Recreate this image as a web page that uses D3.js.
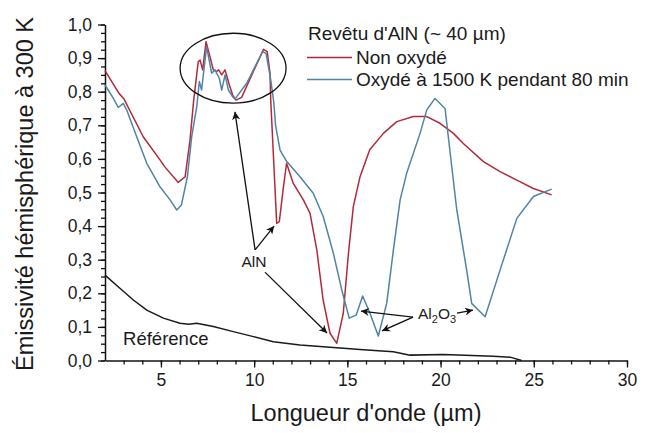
<!DOCTYPE html>
<html>
<head>
<meta charset="utf-8">
<script src="https://cdn.jsdelivr.net/npm/d3@7"></script>
<style>
  body { margin: 0; background: #fff; }
  text { font-family: "Liberation Sans", Arial, sans-serif; fill: #1a1a1a; }
</style>
</head>
<body>
<svg id="chart" width="649" height="433"></svg>
<script>
// wavelength (µm), emissivity
var nonOxyde = [
    [2.0, 0.863], [2.75, 0.795], [3.0, 0.78], [4.05, 0.666], [4.95, 0.597], [5.2, 0.577],
    [5.93, 0.53], [6.3, 0.547], [6.56, 0.656], [6.74, 0.765], [7.0, 0.889], [7.1, 0.894],
    [7.24, 0.865], [7.42, 0.949], [7.63, 0.904], [7.81, 0.865], [7.99, 0.86], [8.1, 0.865],
    [8.26, 0.85], [8.44, 0.865], [8.67, 0.82], [8.85, 0.79], [9.03, 0.775], [9.33, 0.783],
    [10.5, 0.926], [10.7, 0.919], [10.85, 0.855], [10.89, 0.775], [11.21, 0.408], [11.35, 0.413],
    [11.55, 0.507], [11.74, 0.587], [12.1, 0.527], [12.64, 0.478], [13.0, 0.438], [13.36, 0.329],
    [13.7, 0.18], [14.07, 0.081], [14.43, 0.051], [14.78, 0.14], [15.06, 0.32], [15.32, 0.458],
    [15.68, 0.547], [16.2, 0.627], [16.93, 0.676], [17.65, 0.711], [18.54, 0.726], [19.26, 0.726],
    [19.97, 0.706], [20.69, 0.676], [21.22, 0.646], [22.3, 0.592], [23.19, 0.562], [24.09, 0.537],
    [24.98, 0.512], [25.96, 0.493]
];
var oxyde = [
    [2.0, 0.82], [2.45, 0.78], [2.71, 0.753], [2.98, 0.765], [3.16, 0.746], [3.7, 0.666],
    [4.24, 0.587], [4.95, 0.517], [5.49, 0.478], [5.85, 0.448], [6.1, 0.463], [6.42, 0.547],
    [6.65, 0.666], [6.92, 0.755], [7.06, 0.83], [7.18, 0.805], [7.45, 0.934], [7.72, 0.855],
    [7.9, 0.865], [8.13, 0.84], [8.26, 0.805], [8.44, 0.85], [8.62, 0.805], [8.85, 0.785],
    [8.97, 0.778], [9.6, 0.825], [10.45, 0.919], [10.64, 0.914], [10.89, 0.835], [11.05, 0.77],
    [11.15, 0.7], [11.39, 0.626], [11.75, 0.592], [12.46, 0.547], [13.17, 0.498], [13.71, 0.428],
    [14.25, 0.319], [14.7, 0.21], [15.1, 0.126], [15.47, 0.135], [15.82, 0.192], [16.22, 0.14],
    [16.66, 0.073], [17.11, 0.17], [17.47, 0.329], [17.83, 0.478], [18.18, 0.557], [18.9, 0.676],
    [19.26, 0.746], [19.7, 0.78], [20.24, 0.75], [20.87, 0.448], [21.4, 0.269], [21.67, 0.17],
    [22.39, 0.13], [23.19, 0.269], [24.09, 0.423], [24.98, 0.488], [25.96, 0.51]
];
var reference = [
    [2.0, 0.254], [2.8, 0.215], [3.52, 0.18], [4.24, 0.15], [5.13, 0.126], [6.02, 0.111],
    [6.5, 0.108], [6.92, 0.111], [7.81, 0.101], [8.88, 0.086], [9.96, 0.071], [11.03, 0.056],
    [12.46, 0.046], [14.25, 0.039], [15.68, 0.033], [16.66, 0.029], [17.47, 0.026], [18.36, 0.016],
    [20.15, 0.018], [22.83, 0.013], [23.73, 0.01], [24.35, 0.0]
];

var xTicks = [5, 10, 15, 20, 25, 30];
var yTicks = [0, 0.1, 0.2, 0.3, 0.4, 0.5, 0.6, 0.7, 0.8, 0.9, 1.0];

var legendTitle = "Revêtu d'AlN (~ 40 µm)";
var seriesNames = ["Non oxydé", "Oxydé à 1500 K pendant 80 min"];
var seriesColors = ["#b22a3a", "#4f84a6"];

// annotation arrows [from, to] in data units
var alnArrows = [
    [[10.05, 0.329], [8.97, 0.74]],
    [[10.05, 0.329], [11.07, 0.40]],
    [[10.58, 0.263], [13.91, 0.082]]
];
var al2o3Arrows = [
    [[18.52, 0.129], [15.73, 0.147]],
    [[18.52, 0.129], [16.86, 0.088]],
    [[20.88, 0.141], [21.74, 0.150]]
];

var svg = d3.select("#chart");
var x = d3.scaleLinear().domain([2, 30]).range([105, 627]);
var y = d3.scaleLinear().domain([0, 1]).range([360.5, 24.5]);

var fr = d3.formatLocale({ decimal: ",", thousands: " ", grouping: [3], currency: ["", ""] });

// minor ticks first
svg.append("g")
    .attr("transform", "translate(0,360.5)")
    .call(d3.axisBottom(x).tickValues(d3.range(3, 31)).tickSize(4).tickFormat(""))
    .call(function (g) { g.select(".domain").remove(); });
svg.append("g")
    .attr("transform", "translate(105,0)")
    .call(d3.axisLeft(y).tickValues(d3.range(0, 1.001, 0.025)).tickSize(4).tickFormat(""))
    .call(function (g) { g.select(".domain").remove(); });

svg.append("g")
    .attr("transform", "translate(0,360.5)")
    .call(d3.axisBottom(x).tickValues(xTicks).tickSize(7).tickSizeOuter(0).tickPadding(6));
svg.append("g")
    .attr("transform", "translate(105,0)")
    .call(d3.axisLeft(y).tickValues(yTicks).tickSize(7).tickSizeOuter(0).tickPadding(6).tickFormat(fr.format(".1f")));

svg.selectAll(".tick line").attr("stroke", "#111").attr("stroke-width", 1.3);
svg.selectAll(".domain").attr("stroke", "#111").attr("stroke-width", 1.5);
svg.selectAll(".tick text")
    .attr("font-family", "Liberation Sans, Arial, sans-serif")
    .attr("font-size", 17.5)
    .attr("fill", "#1a1a1a");

// axis titles
svg.append("text")
    .attr("x", 366)
    .attr("y", 421)
    .attr("text-anchor", "middle")
    .attr("font-size", 23.5)
    .text("Longueur d'onde (µm)");
svg.append("text")
    .attr("transform", "translate(33,194) rotate(-90)")
    .attr("text-anchor", "middle")
    .attr("font-size", 23.5)
    .text("Émissivité hémisphérique à 300 K");

// curves
var line = d3.line()
    .x(function (d) { return x(d[0]); })
    .y(function (d) { return y(d[1]); });

svg.append("path")
    .datum(reference)
    .attr("fill", "none")
    .attr("stroke", "#1a1a1a")
    .attr("stroke-width", 1.5)
    .attr("d", line);

[nonOxyde, oxyde].forEach(function (serie, i) {
    svg.append("path")
        .datum(serie)
        .attr("fill", "none")
        .attr("stroke", seriesColors[i])
        .attr("stroke-width", 1.5)
        .attr("stroke-linejoin", "round")
        .attr("d", line);
});

// legend
svg.append("text")
    .attr("x", 308)
    .attr("y", 40)
    .attr("font-size", 19)
    .text(legendTitle);
seriesNames.forEach(function (name, i) {
    var ly = 57.5 + i * 22;
    svg.append("line")
        .attr("x1", 307).attr("x2", 352)
        .attr("y1", ly).attr("y2", ly)
        .attr("stroke", seriesColors[i])
        .attr("stroke-width", 1.5);
    svg.append("text")
        .attr("x", 356)
        .attr("y", ly + 6.5)
        .attr("font-size", 19)
        .text(name);
});

// annotations
svg.append("defs").append("marker")
    .attr("id", "head")
    .attr("viewBox", "0 0 10 10")
    .attr("refX", 10).attr("refY", 5)
    .attr("markerWidth", 10).attr("markerHeight", 8)
    .attr("markerUnits", "userSpaceOnUse")
    .attr("orient", "auto")
    .append("path")
    .attr("d", "M0,0 L10,5 L0,10 L3,5 z")
    .attr("fill", "#111");

svg.append("ellipse")
    .attr("cx", x(8.87))
    .attr("cy", y(0.87))
    .attr("rx", x(8.87) - x(6.03))
    .attr("ry", y(0.766) - y(0.87))
    .attr("fill", "none")
    .attr("stroke", "#111")
    .attr("stroke-width", 1.3);

svg.selectAll(".arrow")
    .data(alnArrows.concat(al2o3Arrows))
    .enter()
    .append("line")
    .attr("class", "arrow")
    .attr("x1", function (d) { return x(d[0][0]); })
    .attr("y1", function (d) { return y(d[0][1]); })
    .attr("x2", function (d) { return x(d[1][0]); })
    .attr("y2", function (d) { return y(d[1][1]); })
    .attr("stroke", "#111")
    .attr("stroke-width", 1.3)
    .attr("marker-end", "url(#head)");

svg.append("text")
    .attr("x", x(9.99))
    .attr("y", y(0.278))
    .attr("text-anchor", "middle")
    .attr("font-size", 15.5)
    .attr("fill", "#fff")
    .attr("stroke", "#fff")
    .attr("stroke-width", 4)
    .text("AlN");
svg.append("text")
    .attr("x", x(9.99))
    .attr("y", y(0.278))
    .attr("text-anchor", "middle")
    .attr("font-size", 15.5)
    .text("AlN");

var al2o3 = svg.append("text")
    .attr("x", x(18.79))
    .attr("y", y(0.1235))
    .attr("font-size", 15.5);
al2o3.append("tspan").text("Al");
al2o3.append("tspan").attr("font-size", 11).attr("dy", 4).text("2");
al2o3.append("tspan").attr("dy", -4).text("O");
al2o3.append("tspan").attr("font-size", 11).attr("dy", 4).text("3");

svg.append("text")
    .attr("x", x(2.97))
    .attr("y", y(0.046))
    .attr("font-size", 18.5)
    .text("Référence");
</script>
</body>
</html>
